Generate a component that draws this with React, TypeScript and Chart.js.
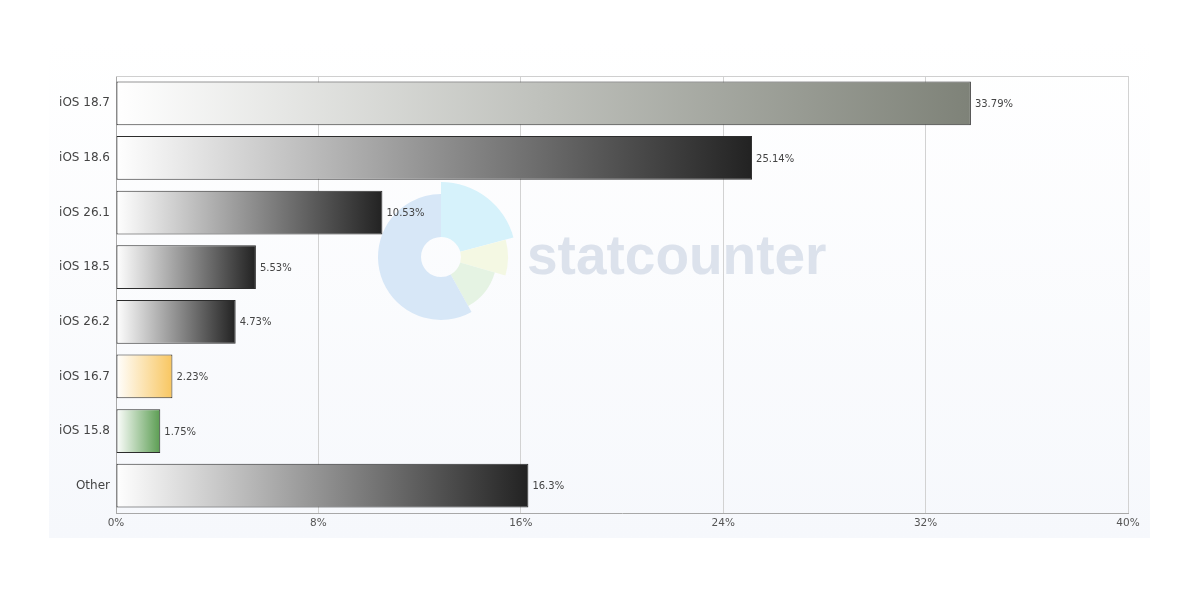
import React, { useEffect, useRef } from "react";
import { Chart, registerables } from "chart.js";

Chart.register(...registerables);

const categories = ["iOS 18.7", "iOS 18.6", "iOS 26.1", "iOS 18.5", "iOS 26.2", "iOS 16.7", "iOS 15.8", "Other"];
const shares = [33.79, 25.14, 10.53, 5.53, 4.73, 2.23, 1.75, 16.3];
const shareLabels = ["33.79%", "25.14%", "10.53%", "5.53%", "4.73%", "2.23%", "1.75%", "16.3%"];
const endColors = ["#7e8278", "#222222", "#222222", "#222222", "#222222", "#f8c660", "#5b9d52", "#222222"];
const xTicks = [0, 8, 16, 24, 32, 40];

const FONT = "'DejaVu Sans', Verdana, sans-serif";

const backgroundPlugin = {
  id: "panelBg",
  beforeDraw(chart: any) {
    const { ctx } = chart;
    ctx.save();
    const g = ctx.createLinearGradient(0, 40, 0, 538);
    g.addColorStop(0, "#ffffff");
    g.addColorStop(1, "#f6f8fc");
    ctx.fillStyle = g;
    ctx.fillRect(49, 40, 1101, 498);

    // watermark logo
    const cx = 441, cy = 257, inner = 20;
    const wedges = [
      { a0: -90, a1: -15, r: 75, c: "#d6f2fb" },
      { a0: -15, a1: 16, r: 67, c: "#f4f8e3" },
      { a0: 16, a1: 61, r: 56, c: "#e5f3e3" },
      { a0: 61, a1: 270, r: 63, c: "#d7e7f7" },
    ];
    const rad = Math.PI / 180;
    for (const w of wedges) {
      ctx.beginPath();
      ctx.arc(cx, cy, w.r, w.a0 * rad, w.a1 * rad, false);
      ctx.arc(cx, cy, inner, w.a1 * rad, w.a0 * rad, true);
      ctx.closePath();
      ctx.fillStyle = w.c;
      ctx.fill();
    }
    ctx.font = "bold 55px 'Liberation Sans', Arial, sans-serif";
    ctx.fillStyle = "#dce2ec";
    ctx.textBaseline = "alphabetic";
    ctx.textAlign = "left";
    ctx.fillText("statcounter", 527, 274);
    ctx.restore();
  },
};

const frameAndLabelsPlugin = {
  id: "frameLabels",
  afterDatasetsDraw(chart: any) {
    const { ctx, chartArea } = chart;
    ctx.save();
    ctx.strokeStyle = "#cfcfcf";
    ctx.lineWidth = 1;
    ctx.beginPath();
    ctx.moveTo(chartArea.left, chartArea.top + 0.5);
    ctx.lineTo(chartArea.right, chartArea.top + 0.5);
    ctx.stroke();
    const meta = chart.getDatasetMeta(0);
    ctx.font = `10px ${FONT}`;
    ctx.fillStyle = "#444444";
    ctx.textBaseline = "middle";
    ctx.textAlign = "left";
    meta.data.forEach((bar: any, i: number) => {
      ctx.fillText(shareLabels[i], bar.x + 4, bar.y + 1);
    });
    ctx.restore();
  },
};

export default function App() {
  const ref = useRef<HTMLCanvasElement | null>(null);

  useEffect(() => {
    document.body.style.margin = "0";
    const canvas = ref.current!;
    const chart = new Chart(canvas, {
      type: "bar",
      data: {
        labels: categories,
        datasets: [
          {
            data: shares,
            backgroundColor: (context: any) => {
              const chart = context.chart;
              const i = context.dataIndex;
              const xs = chart.scales && chart.scales.x;
              if (!chart.chartArea || !xs || i === undefined) return endColors[i] || "#222";
              const x0 = xs.getPixelForValue(0);
              const x1 = xs.getPixelForValue(shares[i]);
              const g = chart.ctx.createLinearGradient(x0, 0, x1, 0);
              g.addColorStop(0, "#ffffff");
              g.addColorStop(1, endColors[i]);
              return g;
            },
            borderColor: "#2c2c2c",
            borderWidth: 1,
            borderSkipped: false,
            barPercentage: 0.8,
            categoryPercentage: 1,
          },
        ],
      },
      options: {
        indexAxis: "y",
        animation: false,
        responsive: false,
        devicePixelRatio: 1,
        layout: { padding: { top: 76, right: 72, bottom: 67, left: 0 } },
        plugins: {
          legend: { display: false },
          tooltip: { enabled: false },
        },
        scales: {
          x: {
            type: "linear",
            min: 0,
            max: 40,
            afterBuildTicks: (scale: any) => {
              scale.ticks = xTicks.map((v) => ({ value: v }));
            },
            afterFit: (scale: any) => {
              scale.height = 20;
            },
            ticks: {
              callback: (v: any) => `${v}%`,
              font: { family: FONT, size: 10.5 },
              color: "#555555",
              padding: 4,
              maxRotation: 0,
            },
            grid: { color: "#d2d2d2", drawTicks: false },
            border: { display: true, color: "#a8a8a8" },
          },
          y: {
            type: "category",
            afterFit: (scale: any) => {
              scale.width = 116;
            },
            ticks: {
              font: { family: FONT, size: 12 },
              color: "#444444",
              padding: 6,
            },
            grid: { display: false, drawTicks: false },
            border: { display: true, color: "#a8a8a8" },
          },
        },
      },
      plugins: [backgroundPlugin, frameAndLabelsPlugin],
    } as any);
    return () => chart.destroy();
  }, []);

  return (
    <div style={{ position: "absolute", left: 0, top: 0, width: 1200, height: 600 }}>
      <canvas ref={ref} width={1200} height={600} style={{ width: 1200, height: 600 }} />
    </div>
  );
}
